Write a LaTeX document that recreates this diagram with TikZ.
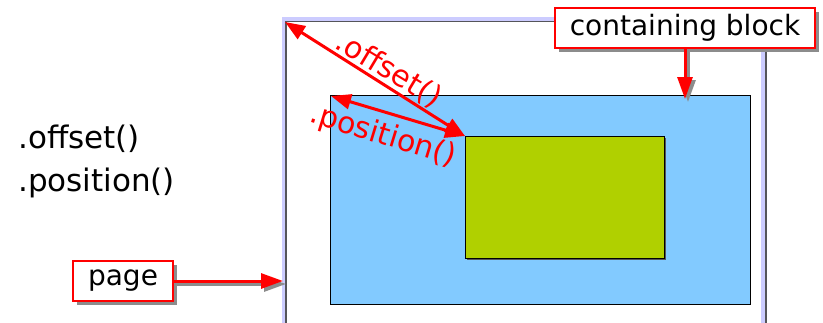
\documentclass[tikz,border=0pt]{standalone}
\usepackage{fontspec}
\setmainfont{DejaVu Sans}
\usetikzlibrary{arrows.meta,shadows}

\definecolor{pagelav}{RGB}{204,204,255}
\definecolor{pagegrey}{RGB}{85,85,90}
\definecolor{cbblue}{RGB}{130,202,255}
\definecolor{elgreen}{RGB}{176,208,0}

\tikzset{
  labelbox/.style={draw=red, line width=2.5pt, fill=white, inner xsep=15pt,
    minimum height=40pt, font=\fontsize{28}{32}\selectfont,
    drop shadow={shadow xshift=4pt, shadow yshift=-4pt, fill=black!45, opacity=1}},
  redarrow/.style={red, line width=3pt, -{Triangle[length=22pt,width=15pt]}},
  greyarrow/.style={black!45, line width=3pt, -{Triangle[length=22pt,width=15pt]}},
  twoarrow/.style={red, line width=3pt,
    {Triangle[length=20pt,width=15pt]}-{Triangle[length=20pt,width=15pt]}},
  redlabel/.style={red, font=\fontsize{30}{34}\selectfont, inner sep=0pt},
  blacklabel/.style={black, font=\fontsize{31}{35}\selectfont, inner sep=0pt}
}

\begin{document}
\begin{tikzpicture}[x=1pt,y=-1pt]

\useasboundingbox (0,0) rectangle (823,322);

\coordinate (pagetl) at (285,22);
\coordinate (cbtl) at (331,96);
\coordinate (eltl) at (465,136);
\coordinate (pageedge) at (283,281);
\coordinate (cbtop) at (0,99);

\draw [pagegrey, line width=2pt] (286.3,330)--(286.3,21.3)--(766,21.3)--(766,330);
\draw [pagelav, line width=3.5pt] (283.7,330)--(283.7,19)--(762.8,19)--(762.8,330);

\draw [black, line width=0.6pt, fill=cbblue] (330,95) rectangle (750,304);
\fill [pagegrey] (467,138) rectangle (666,260);
\draw [black, line width=0.6pt, fill=elgreen] (465,136) rectangle (664,258);

\draw [twoarrow] (pagetl)--(eltl);
\draw [twoarrow] (cbtl)--(eltl);

\node [redlabel, rotate=-31] (offsetlbl) at (389,70) {.offset()};
\node [redlabel, rotate=-17] (positionlbl) at (383,136) {.position()};

\node [blacklabel, anchor=base west] (offsettxt) at (18,148) {.offset()};
\node [blacklabel, anchor=base west] (positiontxt) at (18,191) {.position()};

\node [labelbox] (page) at (123,281) {page};
\node [labelbox] (cb) at (685,28) {containing block};

\draw [greyarrow, transform canvas={shift={(3pt,-3pt)}}] (page.east)--(pageedge);
\draw [redarrow] (page.east)--(pageedge);
\draw [greyarrow, transform canvas={shift={(3pt,-3pt)}}] (cb.south)--(cb.south |- cbtop);
\draw [redarrow] (cb.south)--(cb.south |- cbtop);

\end{tikzpicture}
\end{document}
